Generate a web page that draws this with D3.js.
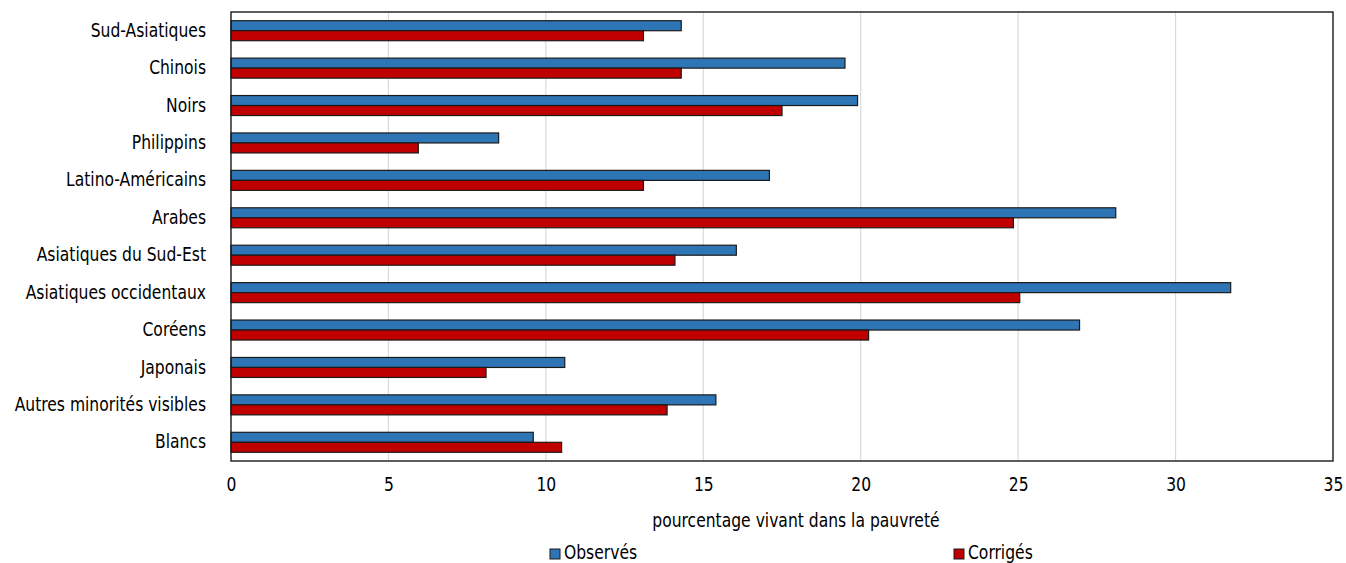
<!DOCTYPE html>
<html>
<head>
<meta charset="utf-8">
<script src="https://cdn.jsdelivr.net/npm/d3@7"></script>
<style>
  body { margin: 0; background: #fff; }
  svg text { font-family: "Liberation Sans Narrow", "Arial Narrow", "DejaVu Sans Condensed", sans-serif; fill: #000; }
</style>
</head>
<body>
<svg id="chart" width="1346" height="563"></svg>
<script>
///// *** DATA *** /////
var categories = ['Sud-Asiatiques', 'Chinois', 'Noirs', 'Philippins', 'Latino-Américains', 'Arabes',
                  'Asiatiques du Sud-Est', 'Asiatiques occidentaux', 'Coréens', 'Japonais',
                  'Autres minorités visibles', 'Blancs'],
    observes = [14.3, 19.5, 19.9, 8.5, 17.1, 28.1, 16.05, 31.75, 26.95, 10.6, 15.4, 9.6],
    corriges = [13.1, 14.3, 17.5, 5.95, 13.1, 24.85, 14.1, 25.05, 20.25, 8.1, 13.85, 10.5],
    xTicks = [0, 5, 10, 15, 20, 25, 30, 35],
    seriesNames = ['Observés', 'Corrigés'],
    seriesColors = ['#2E75B6', '#C00000'];

///// *** SETUP *** /////
var svg = d3.select('#chart'),
    margin = {left: 231, right: 13, top: 12, bottom: 102},
    width = 1346 - margin.left - margin.right,
    height = 563 - margin.top - margin.bottom;

var x = d3.scaleLinear().domain([0, 35]).range([0, width]);
var y = d3.scaleBand().domain(categories).range([0, height]);
var barH = 10;

var g = svg.append('g').attr('transform', 'translate(' + margin.left + ',' + margin.top + ')');

//gridlines
g.selectAll('line.grid')
  .data(xTicks.slice(1, -1))
  .enter().append('line')
  .attr('class', 'grid')
  .attr('x1', function(d) { return x(d); })
  .attr('x2', function(d) { return x(d); })
  .attr('y1', 0)
  .attr('y2', height)
  .attr('stroke', '#d9d9d9')
  .attr('stroke-width', 1.2);

//bars, one group per series
[observes, corriges].forEach(function(values, s) {
  g.selectAll('rect.s' + s)
    .data(values)
    .enter().append('rect')
    .attr('class', 's' + s)
    .attr('x', x(0))
    .attr('y', function(d, i) { return y(categories[i]) + y.bandwidth() / 2 - barH + s * barH; })
    .attr('width', function(d) { return x(d) - x(0); })
    .attr('height', barH)
    .attr('fill', seriesColors[s])
    .attr('stroke', '#1a1a1a')
    .attr('stroke-width', 1.2);
});

//frame
g.append('rect')
  .attr('width', width)
  .attr('height', height)
  .attr('fill', 'none')
  .attr('stroke', '#1a1a1a')
  .attr('stroke-width', 1.4);

//category labels
var yAxis = g.append('g')
  .call(d3.axisLeft(y).tickSize(0).tickPadding(25));
yAxis.select('.domain').remove();
yAxis.selectAll('text').attr('font-size', 19).attr('fill', '#000');

//x axis labels
var xAxis = g.append('g')
  .attr('transform', 'translate(0,' + height + ')')
  .call(d3.axisBottom(x).tickValues(xTicks).tickSize(0).tickPadding(17).tickFormat(d3.format('d')));
xAxis.select('.domain').remove();
xAxis.selectAll('text').attr('font-size', 19).attr('fill', '#000');

//axis title
svg.append('text')
  .attr('x', 796)
  .attr('y', 527)
  .attr('text-anchor', 'middle')
  .attr('font-size', 19)
  .text('pourcentage vivant dans la pauvreté');

//legend
var legendX = [550, 954];
var legend = svg.selectAll('g.legend')
  .data(seriesNames)
  .enter().append('g')
  .attr('class', 'legend')
  .attr('transform', function(d, i) { return 'translate(' + legendX[i] + ',549)'; });

legend.append('rect')
  .attr('width', 10)
  .attr('height', 10)
  .attr('fill', function(d, i) { return seriesColors[i]; })
  .attr('stroke', '#1a1a1a')
  .attr('stroke-width', 1);

legend.append('text')
  .attr('x', 14)
  .attr('y', 10)
  .attr('font-size', 19)
  .text(function(d) { return d; });

//squeeze glyphs a bit to look like a narrow face
svg.selectAll('text').each(function() {
  var len = this.getComputedTextLength();
  d3.select(this)
    .attr('textLength', len * 0.91)
    .attr('lengthAdjust', 'spacingAndGlyphs');
});
</script>
</body>
</html>
